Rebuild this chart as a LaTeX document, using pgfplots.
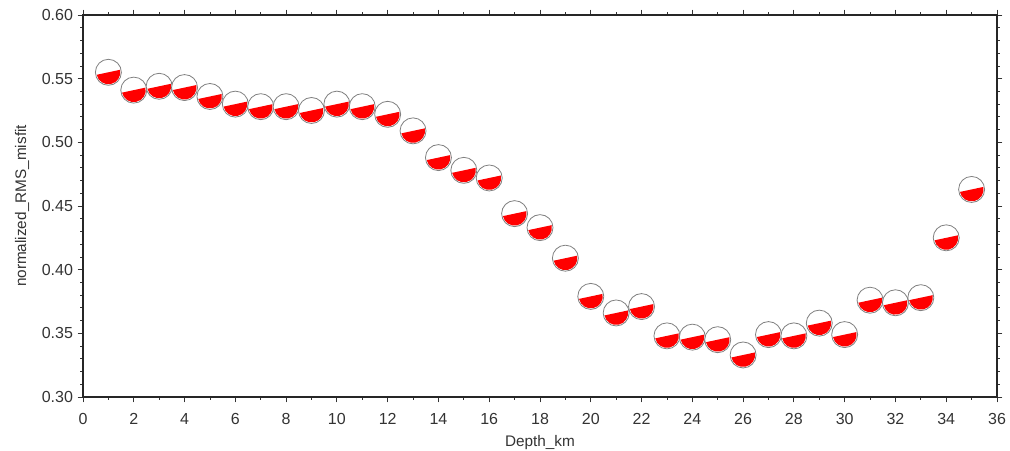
\documentclass[border=0pt]{standalone}
\usepackage{fontspec}
\setmainfont{Liberation Sans}
\usepackage{pgfplots}
\pgfplotsset{compat=1.18}
\definecolor{txt}{HTML}{333333}
\pgfdeclareplotmark{beach}{%
  \pgfpathcircle{\pgfpointorigin}{\pgfplotmarksize}%
  \pgfsetfillcolor{white}%
  \pgfusepathqfill
  \pgfpathmoveto{\pgfpointpolar{12}{0.92\pgfplotmarksize}}%
  \pgfpatharc{12}{-168}{0.92\pgfplotmarksize}%
  \pgfpathclose
  \pgfsetfillcolor{red}%
  \pgfusepathqfill
  \pgfsetlinewidth{0.6pt}%
  \pgfpathcircle{\pgfpointorigin}{\pgfplotmarksize}%
  \pgfsetstrokecolor{gray}%
  \pgfusepathqstroke
}
\begin{document}
\begin{tikzpicture}
\begin{axis}[
  width=685.5pt, height=286.5pt, scale only axis,
  xmin=0, xmax=36, ymin=0.30, ymax=0.60,
  xtick distance=2, minor x tick num=1,
  ytick distance=0.05, minor y tick num=4,
  tick align=outside, xtick pos=both, ytick pos=both,
  xticklabel pos=lower, yticklabel pos=left,
  major tick length=4pt, minor tick length=2pt,
  every tick/.style={black!80, line width=0.6pt},
  axis line style={black!85, line width=1pt},
  tick label style={font=\fontsize{12}{14}\selectfont, text=txt},
  label style={font=\fontsize{11.5}{14}\selectfont, text=txt},
  /pgf/number format/assume math mode=true,
  yticklabel style={/pgf/number format/fixed, /pgf/number format/fixed zerofill, /pgf/number format/precision=2},
  xticklabel style={/pgf/number format/fixed, yshift=-5pt},
  xlabel={Depth\_km}, ylabel={normalized\_RMS\_misfit},
  xlabel style={at={(rel axis cs:0.5,0)}, anchor=center, yshift=-34.5pt},
  ylabel style={at={(rel axis cs:0,0.5)}, anchor=center, yshift=45.75pt},
  clip=false,
]
\coordinate (sw) at (rel axis cs:0,0);
\coordinate (ne) at (rel axis cs:1,1);
\addplot[only marks, mark=beach, mark size=9.75pt] table {
x y
1 0.555
2 0.541
3 0.544
4 0.543
5 0.536
6 0.530
7 0.528
8 0.528
9 0.525
10 0.530
11 0.528
12 0.522
13 0.509
14 0.488
15 0.478
16 0.472
17 0.444
18 0.433
19 0.409
20 0.379
21 0.366
22 0.371
23 0.348
24 0.347
25 0.345
26 0.333
27 0.349
28 0.348
29 0.358
30 0.349
31 0.376
32 0.374
33 0.378
34 0.425
35 0.463
};
\end{axis}
\pgfresetboundingbox
\path[use as bounding box] ([shift={(-62.25pt,-40.5pt)}]sw) rectangle ([shift={(9.75pt,11.25pt)}]ne);
\end{tikzpicture}
\end{document}
